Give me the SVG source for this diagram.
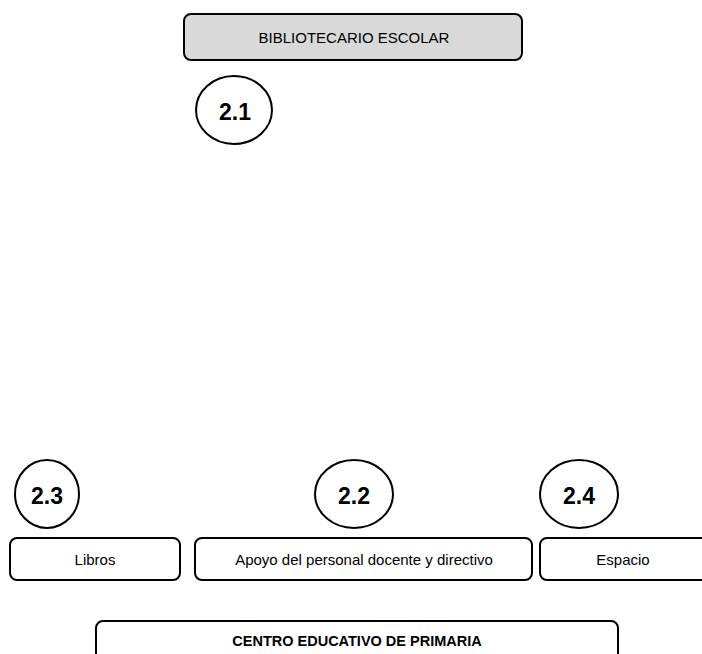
<svg xmlns="http://www.w3.org/2000/svg" width="702" height="654" viewBox="0 0 702 654">
  <style>
    .box { fill: #ffffff; stroke: #000000; stroke-width: 2; }
    .head { fill: #d9d9d9; stroke: #000000; stroke-width: 2; }
    .num { fill: #ffffff; stroke: #000000; stroke-width: 2; }
    .lbl { font-family: "Liberation Sans", Arial, sans-serif; font-size: 15px; fill: #000; text-anchor: middle; dominant-baseline: central; }
    .bold { font-weight: bold; font-size: 14.5px; }
    .numtxt { font-family: "Liberation Sans", Arial, sans-serif; font-size: 23px; font-weight: bold; fill: #000; text-anchor: middle; dominant-baseline: central; }
  </style>
  <rect width="702" height="654" fill="#ffffff"/>
  <g id="connectors"></g>

  <g id="bibliotecario">
    <rect class="head" x="184" y="14" width="338" height="46" rx="7"/>
    <text class="lbl" x="354" y="37">BIBLIOTECARIO ESCOLAR</text>
  </g>

  <g id="n21">
    <ellipse class="num" cx="234" cy="110" rx="38" ry="34"/>
    <text class="numtxt" x="235" y="112">2.1</text>
  </g>

  <g id="n23">
    <ellipse class="num" cx="47" cy="494" rx="32" ry="34"/>
    <text class="numtxt" x="47" y="496">2.3</text>
  </g>

  <g id="n22">
    <ellipse class="num" cx="354" cy="494" rx="39" ry="34"/>
    <text class="numtxt" x="354" y="496">2.2</text>
  </g>

  <g id="n24">
    <ellipse class="num" cx="579" cy="494" rx="39" ry="34"/>
    <text class="numtxt" x="579" y="496">2.4</text>
  </g>

  <g id="libros">
    <rect class="box" x="10" y="538" width="170" height="42" rx="7"/>
    <text class="lbl" x="95" y="559">Libros</text>
  </g>

  <g id="apoyo">
    <rect class="box" x="195" y="538" width="337" height="42" rx="7"/>
    <text class="lbl" x="364" y="559">Apoyo del personal docente y directivo</text>
  </g>

  <g id="espacio">
    <rect class="box" x="540" y="538" width="170" height="42" rx="7"/>
    <text class="lbl" x="623" y="559">Espacio</text>
  </g>

  <g id="centro">
    <rect class="box" x="96" y="621" width="522" height="45" rx="7"/>
    <text class="lbl bold" x="357" y="641">CENTRO EDUCATIVO DE PRIMARIA</text>
  </g>
</svg>
